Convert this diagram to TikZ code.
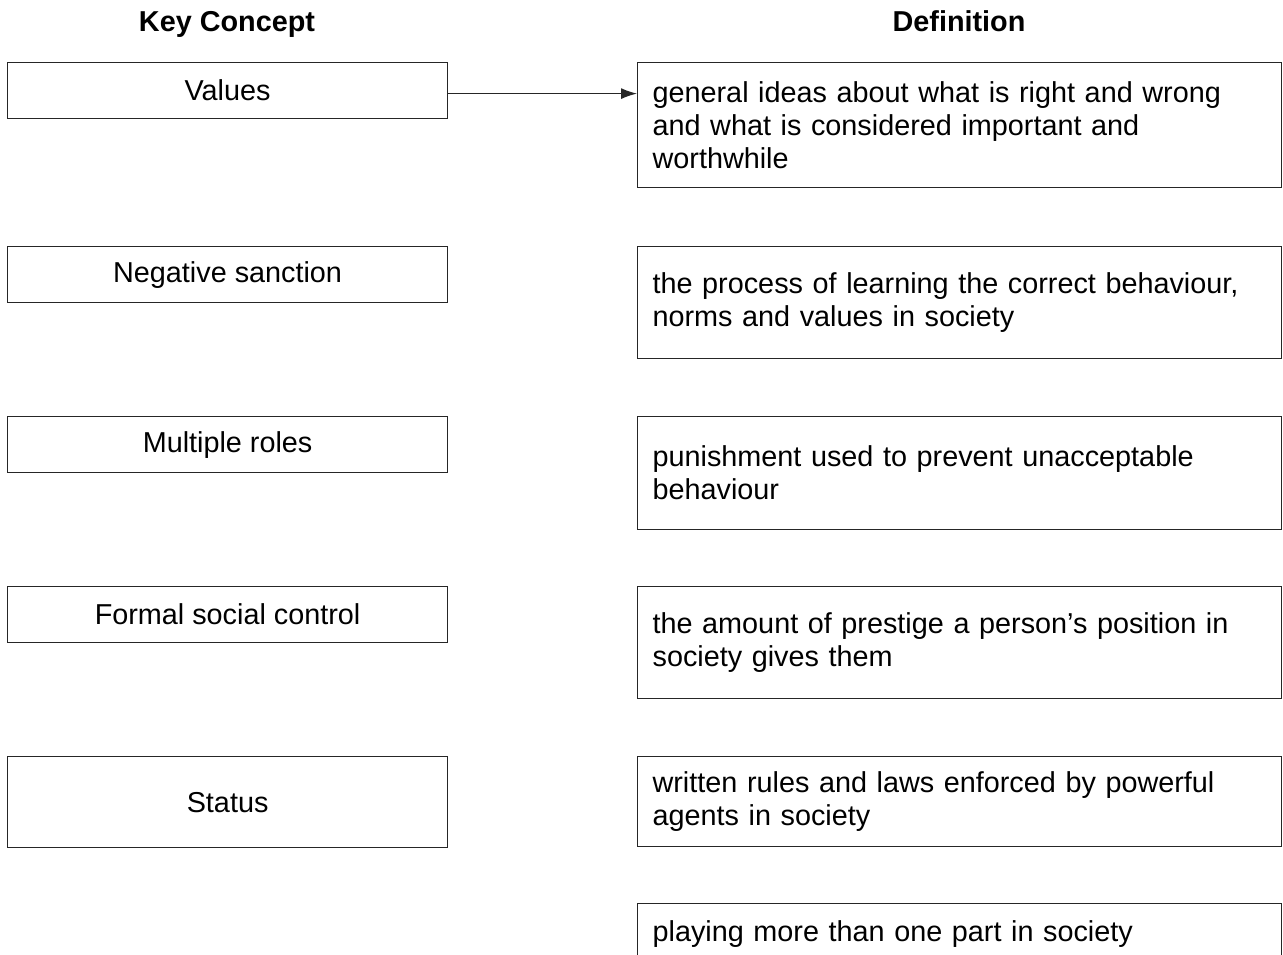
\documentclass[tikz,border=0pt]{standalone}
\usepackage{fontspec}
\setmainfont{Liberation Sans}
\usetikzlibrary{arrows.meta}

\begin{document}
\begin{tikzpicture}[x=1pt,y=-1pt,>={Latex[length=16pt,width=11pt]},
  line width=1.2pt,
  head/.style={anchor=base,font=\fontsize{28.8}{33}\selectfont\bfseries},
  key node/.style={draw=black!85,anchor=north west,minimum width=440pt,minimum height=56pt,
    inner sep=0pt,font=\fontsize{28.8}{33}\selectfont},
  def node/.style={draw=black!85,anchor=north west,text width=614pt,inner xsep=15pt,
    inner ysep=0pt,minimum height=112pt,align=left,font=\fontsize{28.8}{33}\selectfont}]

  \useasboundingbox (0,0) rectangle (1283,955);

  \node[head] (hkey) at (227,32) {Key Concept};
  \node[head] (hdef) at (959,32) {Definition};

  \node[key node] (k1) at (7,62) {Values};
  \node[key node] (k2) at (7,246) {Negative sanction};
  \node[key node] (k3) at (7,416) {Multiple roles};
  \node[key node] (k4) at (7,586) {Formal social control};
  \node[key node,minimum height=91pt] (k5) at (7,756) {Status};

  \node[def node,minimum height=125pt] (d1) at (637,62)
    {general ideas about what is right and wrong\\and what is considered important and\\worthwhile};
  \node[def node] (d2) at (637,246)
    {the process of learning the correct behaviour,\\norms and values in society};
  \node[def node,minimum height=113pt] (d3) at (637,416)
    {punishment used to prevent unacceptable\\behaviour};
  \node[def node] (d4) at (637,586)
    {the amount of prestige a person’s position in\\society gives them};
  \node[def node,minimum height=90pt] (d5) at (637,756)
    {written rules and laws enforced by powerful\\agents in society};
  \node[def node,minimum height=60pt] (d6) at (637,903)
    {playing more than one part in society};

  \draw[->,draw=black!85] ([yshift=-3pt]k1.east) -- ([yshift=-3pt]k1.east -| d1.west);

\end{tikzpicture}
\end{document}
